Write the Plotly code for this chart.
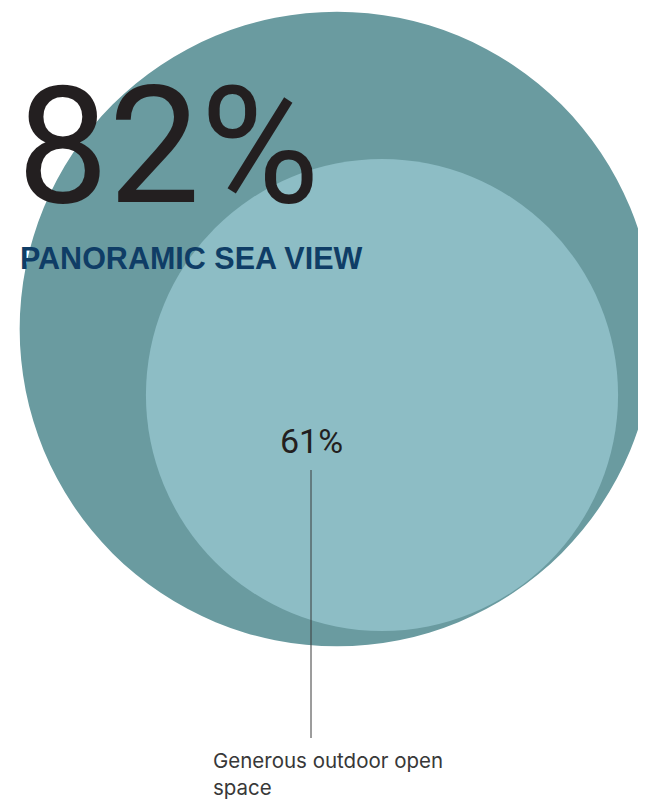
import plotly.graph_objects as go

# Data
labels = ["PANORAMIC SEA VIEW", "Generous outdoor open<br>space"]
values = [82, 61]  # percent
colors = ["#6a9ba0", "#8dbdc5"]

W, H = 646, 801
OFF = 8  # default page body margin in the browser
scale = 3.87  # pixels of radius per percent
centers = [(337, 329), (382, 395)]

fig = go.Figure()
shapes = []
for v, c, (cx, cy) in zip(values, colors, centers):
    r = v * scale
    shapes.append(dict(type="circle", xref="x", yref="y",
                       x0=cx - r, x1=cx + r, y0=cy - r, y1=cy + r,
                       fillcolor=c, line=dict(width=0), layer="below"))
# leader line for 61%
shapes.append(dict(type="line", xref="x", yref="y", x0=311, x1=311, y0=470, y1=738,
                   line=dict(color="#3a3a3a", width=1)))

annotations = [
    dict(x=15, y=146, xref="x", yref="y", text=f"{values[0]}%", showarrow=False,
         xanchor="left", yanchor="middle",
         font=dict(family="Roboto", size=163, color="#231f20")),
    dict(x=18, y=258, xref="x", yref="y", text=labels[0], showarrow=False,
         xanchor="left", yanchor="middle",
         font=dict(family="Liberation Sans, Arial", size=30.5,
                   color="#0f3d66", weight="bold")),
    dict(x=311, y=441, xref="x", yref="y", text=f"{values[1]}%", showarrow=False,
         xanchor="center", yanchor="middle",
         font=dict(family="Roboto", size=34, color="#231f20")),
    dict(x=211, y=774, xref="x", yref="y", text=labels[1], showarrow=False,
         xanchor="left", yanchor="middle", align="left",
         font=dict(family="Inter", size=20.5, color="#383838")),
]

fig.add_trace(go.Scatter(x=[OFF], y=[OFF], mode="markers", marker=dict(opacity=0),
                         hoverinfo="skip", showlegend=False))
fig.update_layout(
    width=W - OFF, height=H - OFF, margin=dict(l=0, r=0, t=0, b=0),
    paper_bgcolor="white", plot_bgcolor="white",
    shapes=shapes, annotations=annotations, showlegend=False,
    xaxis=dict(range=[OFF, W], visible=False, fixedrange=True),
    yaxis=dict(range=[H, OFF], visible=False, fixedrange=True),
)
fig.write_html("out.html")
